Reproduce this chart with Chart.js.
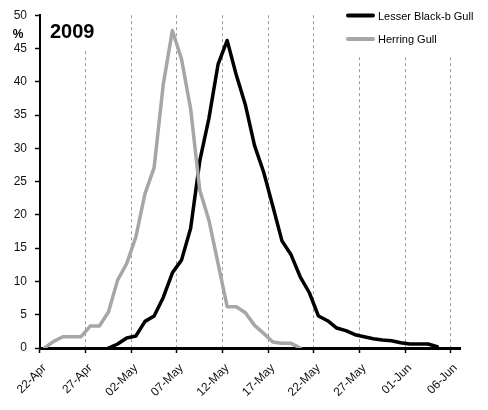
<!DOCTYPE html>
<html>
<head>
<meta charset="utf-8">
<script src="https://cdn.jsdelivr.net/npm/chart.js@4.4.1/dist/chart.umd.min.js"></script>
<style>
  html, body { margin: 0; padding: 0; background: #fff; }
  #wrap { width: 488px; height: 410px; }
</style>
</head>
<body>
<div id="wrap"><canvas id="myChart" width="488" height="410"></canvas></div>
<script>
// categories: one per day, 22 Apr - 06 Jun
const dates = [
  '22-Apr', '23-Apr', '24-Apr', '25-Apr', '26-Apr', '27-Apr', '28-Apr', '29-Apr', '30-Apr',
  '01-May', '02-May', '03-May', '04-May', '05-May', '06-May', '07-May', '08-May', '09-May',
  '10-May', '11-May', '12-May', '13-May', '14-May', '15-May', '16-May', '17-May', '18-May',
  '19-May', '20-May', '21-May', '22-May', '23-May', '24-May', '25-May', '26-May', '27-May',
  '28-May', '29-May', '30-May', '31-May', '01-Jun', '02-Jun', '03-Jun', '04-Jun', '05-Jun',
  '06-Jun',
];

const lesserBlackBacked = [
  null, null, null, null, null, null, null, 0, 0.6, 1.5,
  1.8, 4.0, 4.8, 7.6, 11.3, 13.2, 18.0, 28.1, 34.5, 42.6,
  46.2, 41.0, 36.5, 30.4, 26.4, 21.3, 16.1, 14.0, 10.7, 8.3,
  4.8, 4.1, 3.0, 2.6, 2.0, 1.7, 1.4, 1.2, 1.1, 0.8,
  0.6, 0.6, 0.6, 0.2, null, null,
];

const herringGull = [
  0, 1.0, 1.7, 1.7, 1.7, 3.3, 3.3, 5.4, 10.2, 12.7,
  16.7, 23.2, 27.1, 39.6, 47.7, 43.4, 35.9, 23.7, 19.2, 12.7,
  6.2, 6.2, 5.3, 3.4, 2.2, 0.9, 0.7, 0.7, 0, null,
  null, null, null, null, null, null, null, null, null, null,
  null, null, null, null, null, null,
];

const seriesNames = ['Lesser Black-b Gull', 'Herring Gull'];
const seriesColors = ['#000000', '#a6a6a6'];
const yearLabel = '2009';
const yUnit = '%';
const labelEvery = 5;

const FONT = "'Liberation Sans', Arial, sans-serif";

// title, unit and legend drawn by hand, on white boxes over the grid
const overlay = {
  id: 'overlay',
  beforeDatasetsDraw(chart) {
    const { ctx, chartArea } = chart;
    ctx.save();
    ctx.fillStyle = '#fff';
    ctx.fillRect(chartArea.left + 2, chartArea.top - 2, 58, 36);
    ctx.fillRect(340, chartArea.top - 2, 148, 43);

    ctx.fillStyle = '#000';
    ctx.font = 'bold 20px ' + FONT;
    ctx.textBaseline = 'alphabetic';
    ctx.textAlign = 'left';
    ctx.fillText(yearLabel, 50, 38);

    ctx.font = 'bold 12px ' + FONT;
    ctx.textAlign = 'center';
    ctx.fillText(yUnit, 18, 38);

    ctx.font = '11px ' + FONT;
    ctx.textAlign = 'left';
    seriesNames.forEach((name, i) => {
      const y = 15.5 + i * 23.5;
      ctx.strokeStyle = seriesColors[i];
      ctx.lineWidth = 4;
      ctx.lineCap = 'round';
      ctx.beginPath();
      ctx.moveTo(348, y);
      ctx.lineTo(373, y);
      ctx.stroke();
      ctx.fillStyle = '#000';
      ctx.fillText(name, 378, y + 4);
    });
    ctx.restore();
  },
};

const tickEvery = (c) => typeof c.index === 'number' && c.index % labelEvery === 0;

new Chart(document.getElementById('myChart'), {
  type: 'line',
  data: {
    labels: dates,
    datasets: [
      {
        label: seriesNames[0],
        data: lesserBlackBacked,
        borderColor: seriesColors[0],
        borderWidth: 3.5,
        order: 1,
      },
      {
        label: seriesNames[1],
        data: herringGull,
        borderColor: seriesColors[1],
        borderWidth: 3.5,
        order: 0,
      },
    ],
  },
  options: {
    responsive: false,
    animation: false,
    devicePixelRatio: 1,
    layout: { padding: { top: 14, right: 28, left: 0, bottom: 0 } },
    elements: {
      point: { radius: 0 },
      line: { tension: 0, borderJoinStyle: 'round', borderCapStyle: 'round' },
    },
    plugins: {
      legend: { display: false },
      tooltip: { enabled: false },
    },
    scales: {
      x: {
        type: 'category',
        offset: true,
        afterFit: (s) => { s.height = 62; },
        grid: {
          offset: true,
          drawOnChartArea: true,
          lineWidth: 1,
          tickLength: 5,
          color: (c) => (tickEvery(c) && c.index > 0 ? '#9a9a9a' : 'rgba(0,0,0,0)'),
          tickColor: (c) => (tickEvery(c) ? '#000' : 'rgba(0,0,0,0)'),
          tickWidth: 1.5,
        },
        border: { display: true, color: '#000', width: 3, dash: [3, 3] },
        ticks: {
          autoSkip: false,
          maxRotation: 45,
          minRotation: 45,
          padding: 8,
          color: '#111',
          font: { family: FONT, size: 12 },
          callback: (v, i) => (i % labelEvery === 0 ? dates[i] : ''),
        },
      },
      y: {
        min: 0,
        max: 50,
        afterFit: (s) => { s.width = 40; },
        grid: {
          drawOnChartArea: false,
          tickLength: 5,
          tickColor: '#000',
          tickWidth: 1.5,
        },
        border: { display: true, color: '#000', width: 2 },
        ticks: {
          stepSize: 5,
          padding: 8,
          color: '#111',
          font: { family: FONT, size: 12 },
        },
      },
    },
  },
  plugins: [overlay],
});
</script>
</body>
</html>
